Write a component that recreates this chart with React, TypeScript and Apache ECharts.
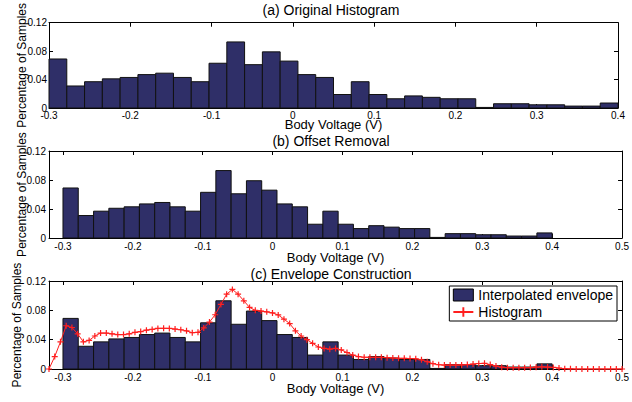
import React, { useEffect, useRef } from "react";
import * as echarts from "echarts";

// ---- data ----
const binStart = -0.3;
const binWidth = 0.021875;
const histValues = [
  0.069, 0.031, 0.037, 0.041, 0.043, 0.047, 0.049, 0.043, 0.037, 0.063, 0.093,
  0.061, 0.079, 0.066, 0.047, 0.043, 0.019, 0.037, 0.019, 0.013, 0.017, 0.015,
  0.013, 0.013, 0.0008, 0.006, 0.006, 0.0045, 0.0045, 0.0027, 0.0027, 0.007,
];

const envStart = -0.32;
const envStep = 0.0082;
const envValues = [
  0, 0.017, 0.037, 0.059, 0.0566, 0.048, 0.037, 0.039, 0.045, 0.049, 0.049,
  0.048, 0.047, 0.047, 0.048, 0.05, 0.051, 0.053, 0.054, 0.0553, 0.0555,
  0.0553, 0.0545, 0.0535, 0.052, 0.0495, 0.05, 0.056, 0.064, 0.074, 0.088,
  0.102, 0.1085, 0.102, 0.093, 0.084, 0.08, 0.079, 0.078, 0.0765, 0.0737,
  0.068, 0.062, 0.052, 0.045, 0.04, 0.035, 0.03, 0.028, 0.027, 0.028,
  0.026, 0.0225, 0.019, 0.017, 0.016, 0.016, 0.016, 0.016, 0.0155, 0.015,
  0.0145, 0.0145, 0.0143, 0.014, 0.0125, 0.01, 0.0072, 0.0058, 0.0054, 0.0054,
  0.0054, 0.0055, 0.006, 0.0067, 0.0075, 0.0077, 0.006, 0.004, 0.0025, 0.0018,
  0.0018, 0.0018, 0.0018, 0.0019, 0.0025, 0.003, 0.0026, 0.0021, 0.0012, 0.0005,
  0.0002, 0, 0, 0, 0, 0, 0, 0, 0, 0,
];

const xTicksA = [-0.3, -0.2, -0.1, 0, 0.1, 0.2, 0.3, 0.4];
const xTicksBC = [-0.3, -0.2, -0.1, 0, 0.1, 0.2, 0.3, 0.4, 0.5];
const titles = ["(a) Original Histogram", "(b) Offset Removal", "(c) Envelope Construction"];
const xName = "Body Voltage (V)";
const yName = "Percentage of Samples";
const legendNames = ["Interpolated envelope", "Histogram"];

const FONT = "'Liberation Sans', Arial, Helvetica, sans-serif";
const BAR_FILL = "#2f2f68";
const RED = "#ff1f1f";

const panels = [
  { grid: { left: 49, top: 19, width: 569, height: 89 }, min: -0.3, max: 0.4, ticks: xTicksA, titleY: 10, labelMargin: 2, yLabelMargin: 2, nameGap: 10, yNameGap: 21 },
  { grid: { left: 49, top: 151, width: 576, height: 87 }, min: -0.32, max: 0.5, ticks: xTicksBC, titleY: 141, labelMargin: 3, yLabelMargin: 3, nameGap: 13, yNameGap: 21 },
  { grid: { left: 49, top: 281, width: 576, height: 88 }, min: -0.32, max: 0.5, ticks: xTicksBC, titleY: 274, labelMargin: 3, yLabelMargin: 3, nameGap: 13, yNameGap: 26 },
];

const fmt = (v: number) => String(Math.round(v * 100) / 100);

export default function App() {
  const ref = useRef<HTMLDivElement>(null);
  useEffect(() => {
    if (!ref.current) return;
    const chart = echarts.init(ref.current, null, { renderer: "svg" });
    const axisLine = { show: true, onZero: false, lineStyle: { color: "#000", width: 1 } };
    const xAxes: any[] = [];
    const yAxes: any[] = [];
    const series: any[] = [];
    panels.forEach((p, i) => {
      xAxes.push({
        type: "value", gridIndex: i, position: "bottom", min: p.min, max: p.max,
        axisLine,
        axisTick: { show: true, inside: true, length: 4, customValues: p.ticks, lineStyle: { color: "#000" } },
        axisLabel: { customValues: p.ticks, formatter: fmt, margin: p.labelMargin, fontSize: 10, color: "#000", fontFamily: FONT },
        splitLine: { show: false },
        name: xName, nameLocation: "middle", nameGap: p.nameGap, nameMoveOverlap: false,
        nameTextStyle: { fontSize: 13, color: "#000", fontFamily: FONT },
      });
      xAxes.push({
        type: "value", gridIndex: i, position: "top", min: p.min, max: p.max,
        axisLine,
        axisTick: { show: true, inside: true, length: 4, customValues: p.ticks, lineStyle: { color: "#000" } },
        axisLabel: { show: false },
        splitLine: { show: false },
      });
      yAxes.push({
        type: "value", gridIndex: i, position: "left", min: 0, max: 0.12, interval: 0.04,
        axisLine,
        axisTick: { show: true, inside: true, length: 4, lineStyle: { color: "#000" } },
        axisLabel: { formatter: fmt, margin: p.yLabelMargin, fontSize: 10, color: "#000", fontFamily: FONT },
        splitLine: { show: false },
        name: yName, nameLocation: "middle", nameGap: p.yNameGap, nameMoveOverlap: false,
        nameTextStyle: { fontSize: 12, color: "#000", fontFamily: FONT },
      });
      yAxes.push({
        type: "value", gridIndex: i, position: "right", min: 0, max: 0.12, interval: 0.04,
        axisLine,
        axisTick: { show: true, inside: true, length: 4, lineStyle: { color: "#000" } },
        axisLabel: { show: false },
        splitLine: { show: false },
      });
      series.push({
        type: "custom",
        name: i === 2 ? legendNames[0] : "hist" + i,
        xAxisIndex: 2 * i,
        yAxisIndex: 2 * i,
        itemStyle: { color: BAR_FILL, borderColor: "#111", borderWidth: 1 },
        encode: { x: [0, 1], y: 2 },
        data: histValues.map((v, k) => [binStart + k * binWidth, binStart + (k + 1) * binWidth, v]),
        renderItem: (_params: any, api: any) => {
          const p0 = api.coord([api.value(0), api.value(2)]);
          const p1 = api.coord([api.value(1), 0]);
          return {
            type: "rect",
            shape: { x: p0[0], y: p0[1], width: p1[0] - p0[0], height: p1[1] - p0[1] },
            style: { fill: BAR_FILL, stroke: "#111", lineWidth: 1 },
          };
        },
        z: 2,
      });
    });
    series.push({
      type: "line",
      name: legendNames[1],
      xAxisIndex: 4,
      yAxisIndex: 4,
      data: envValues.map((v, k) => [envStart + k * envStep, v]),
      symbol: "path://M4,0h2v4h4v2h-4v4h-2v-4h-4v-2h4z",
      symbolSize: 6,
      showSymbol: true,
      lineStyle: { color: RED, width: 1 },
      itemStyle: { color: RED },
      z: 5,
    });

    chart.setOption({
      animation: false,
      backgroundColor: "#fff",
      grid: panels.map((p) => ({ ...p.grid, containLabel: false })),
      xAxis: xAxes,
      yAxis: yAxes,
      series,
      legend: {
        data: [
          { name: legendNames[0], icon: "rect", itemStyle: { color: BAR_FILL, borderColor: "#000", borderWidth: 1 } },
          { name: legendNames[1] },
        ],
        orient: "vertical",
        right: 15,
        top: 286,
        backgroundColor: "#fff",
        borderColor: "#000",
        borderWidth: 1,
        borderRadius: 0,
        padding: [2, 4, 2, 3],
        itemGap: 3,
        itemWidth: 20,
        itemHeight: 12,
        selectedMode: false,
        textStyle: { fontSize: 14, color: "#000", fontFamily: FONT },
      },
      graphic: titles.map((t, i) => ({
        type: "text",
        x: 331,
        y: panels[i].titleY,
        style: {
          text: t,
          fontSize: 14,
          fontFamily: FONT,
          fill: "#000",
          align: "center",
          verticalAlign: "middle",
          textAlign: "center",
          textVerticalAlign: "middle",
        },
      })),
    });
    return () => chart.dispose();
  }, []);
  return (
    <div
      ref={ref}
      style={{ position: "fixed", left: 0, top: 0, width: 632, height: 402, background: "#fff" }}
    />
  );
}
